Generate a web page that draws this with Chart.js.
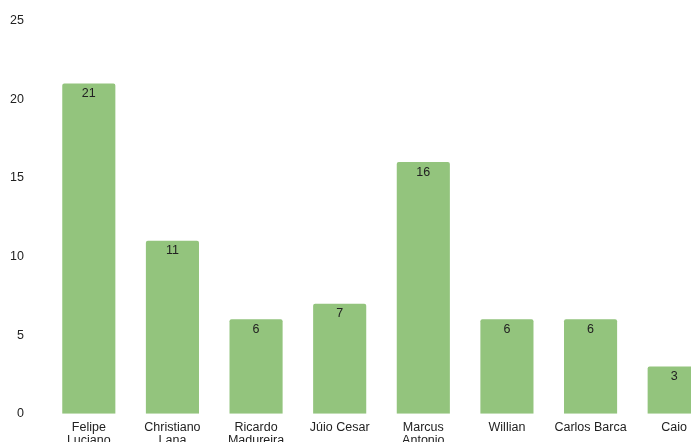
<!DOCTYPE html>
<html>
<head>
<meta charset="utf-8">
<script src="https://cdn.jsdelivr.net/npm/chart.js@4"></script>
<style>
  html, body { margin: 0; padding: 0; overflow: hidden; background: #fff; }
  #wrap { width: 724px; height: 464px; margin-top: -10px; position: relative; }
</style>
</head>
<body>
<div id="wrap"><canvas id="chart"></canvas></div>
<script>
// players and their counts
const players = [
  ['Felipe', 'Luciano'],
  ['Christiano', 'Lana'],
  ['Ricardo', 'Madureira'],
  'Júio Cesar',
  ['Marcus', 'Antonio'],
  'Willian',
  'Carlos Barca',
  'Caio'
];
const counts = [21, 11, 6, 7, 16, 6, 6, 3];
const yTicks = [0, 5, 10, 15, 20, 25];

// draw value inside the top of each bar
const valueLabels = {
  id: 'valueLabels',
  afterDatasetsDraw(chart) {
    const ctx = chart.ctx;
    const meta = chart.getDatasetMeta(0);
    ctx.save();
    ctx.font = '12.5px "Liberation Sans", Arial, sans-serif';
    ctx.fillStyle = '#222';
    ctx.textAlign = 'center';
    ctx.textBaseline = 'middle';
    meta.data.forEach((bar, i) => {
      ctx.fillText(String(counts[i]), bar.x, bar.y + 10);
    });
    ctx.restore();
  }
};

Chart.defaults.font.family = '"Liberation Sans", Arial, sans-serif';
Chart.defaults.font.size = 12.5;
Chart.defaults.color = '#222';

new Chart(document.getElementById('chart'), {
  type: 'bar',
  data: {
    labels: players,
    datasets: [{
      data: counts,
      backgroundColor: '#93c47d',
      borderRadius: 2,
      borderSkipped: 'bottom',
      barPercentage: 0.635,
      categoryPercentage: 1
    }]
  },
  options: {
    responsive: true,
    maintainAspectRatio: false,
    animation: false,
    layout: { padding: { left: 0, top: 3, right: 8 } },
    plugins: { legend: { display: false }, tooltip: { enabled: false } },
    scales: {
      x: {
        grid: { display: false, drawTicks: false },
        border: { display: false },
        ticks: { maxRotation: 0, autoSkip: false, padding: 7, font: { lineHeight: 1.05 } }
      },
      y: {
        min: 0,
        max: 25,
        afterBuildTicks: (axis) => { axis.ticks = yTicks.map(v => ({ value: v })); },
        afterFit: (axis) => { axis.width = 47; },
        grid: { display: false, drawTicks: false },
        border: { display: false },
        ticks: { padding: 23 }
      }
    }
  },
  plugins: [valueLabels]
});
</script>
</body>
</html>
